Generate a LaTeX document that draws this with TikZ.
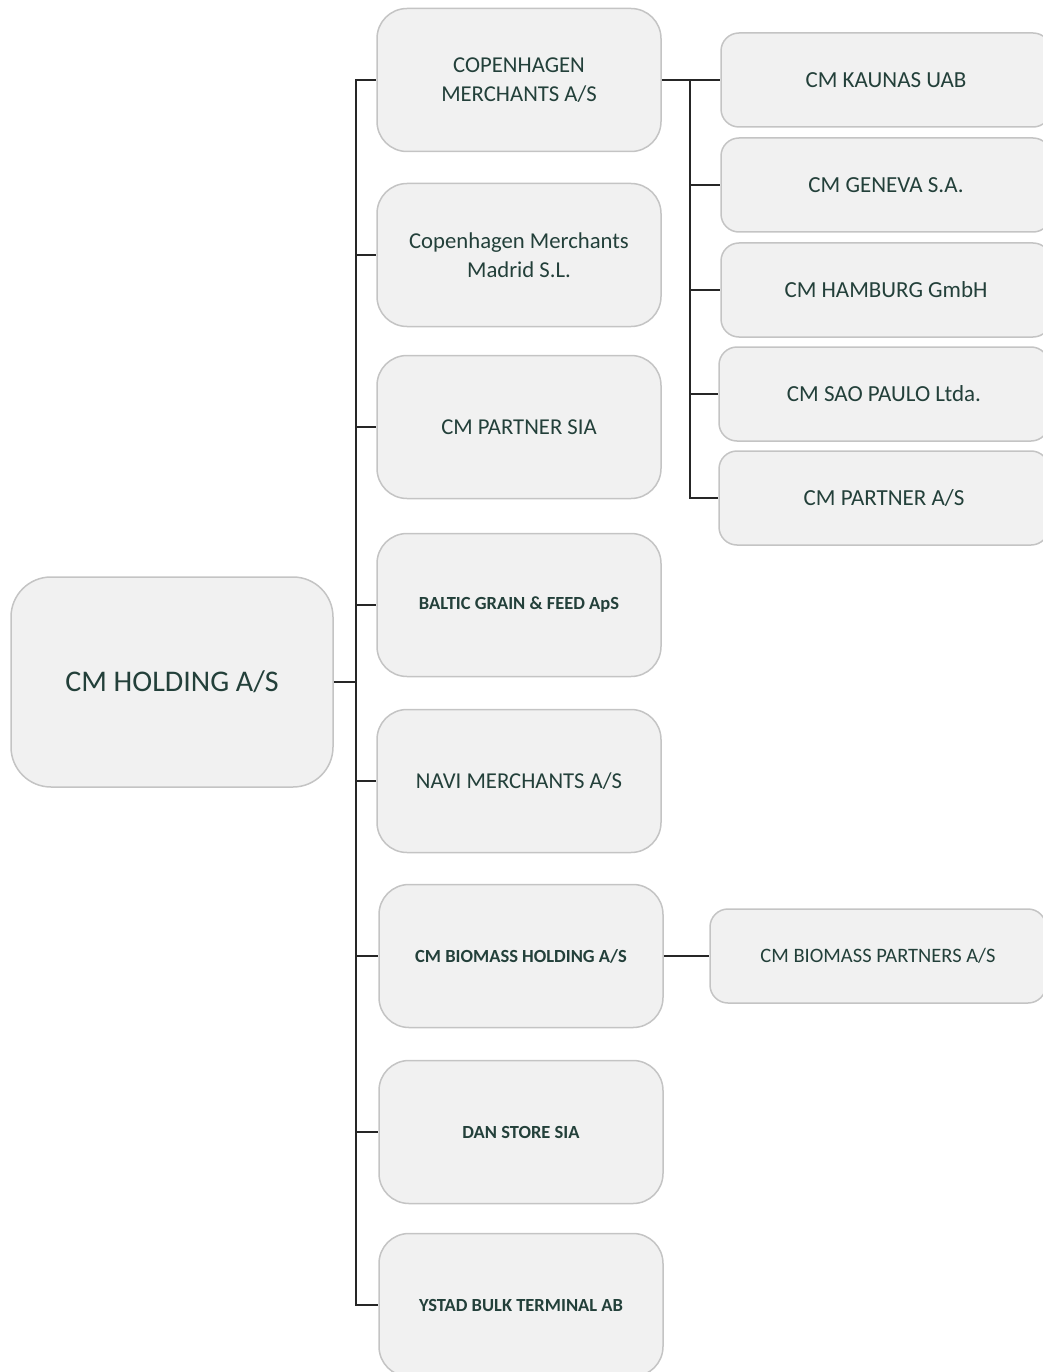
\documentclass[tikz,border=0pt]{standalone}
\usepackage{fontspec}
\setmainfont{Carlito}

\definecolor{boxfill}{HTML}{F1F1F1}
\definecolor{boxline}{HTML}{C4C4C4}
\definecolor{boxtext}{HTML}{23403A}

\tikzset{
	unit/.style={draw=boxline,fill=boxfill,line width=1.5pt,rounded corners=30pt,text=boxtext,align=center,inner sep=0pt},
	midbox/.style={unit,minimum width=284pt,minimum height=143pt,font=\fontsize{22.7}{29}\selectfont},
	subbox/.style={unit,rounded corners=18pt,minimum width=330pt,minimum height=94pt,font=\fontsize{23}{29}\selectfont},
	smalltext/.style={font=\fontsize{18.5}{22}\selectfont\bfseries},
	link/.style={line width=1.6pt,draw=black!85},
}

\begin{document}
\begin{tikzpicture}[x=1pt,y=-1pt]
		\useasboundingbox (0,0) rectangle (1043,1372);
		\clip (0,0) rectangle (1043,1372);
		
		\node[unit,rounded corners=40pt,minimum width=322pt,minimum height=210pt,font=\fontsize{30}{36}\selectfont] (root) at (172,682) {CM HOLDING A/S};
		
		\node[midbox] (m1) at (519,80) {COPENHAGEN\\MERCHANTS A/S};
		\node[midbox] (m2) at (519,255) {Copenhagen Merchants\\Madrid S.L.};
		\node[midbox] (m3) at (519,427) {CM PARTNER SIA};
		\node[midbox,smalltext] (m4) at (519,605) {BALTIC GRAIN \& FEED ApS};
		\node[midbox] (m5) at (519,781) {NAVI MERCHANTS A/S};
		\node[midbox,smalltext] (m6) at (521,956) {CM BIOMASS HOLDING A/S};
		\node[midbox,smalltext] (m7) at (521,1132) {DAN STORE SIA};
		\node[midbox,smalltext] (m8) at (521,1305) {YSTAD BULK TERMINAL AB};
		
		\node[subbox] (r1) at (886,80) {CM KAUNAS UAB};
		\node[subbox] (r2) at (886,185) {CM GENEVA S.A.};
		\node[subbox] (r3) at (886,290) {CM HAMBURG GmbH};
		\node[subbox] (r4) at (884,394) {CM SAO PAULO Ltda.};
		\node[subbox] (r5) at (884,498) {CM PARTNER A/S};
		
		\node[subbox,minimum width=336pt,font=\fontsize{20.5}{24}\selectfont] (bp) at (878,956) {CM BIOMASS PARTNERS A/S};
		
		% holding to subsidiaries
		\coordinate (trunk) at (356,682);
		\draw[link,line width=2.5pt] (root.east) -- (trunk);
		\foreach \m in {m1,m2,m3,m4,m5,m6,m7,m8}
			\draw[link] (trunk) |- (\m.west);
		
		% copenhagen merchants branch
		\coordinate (subtrunk) at (690,80);
		\draw[link] (m1.east) -- (subtrunk);
		\foreach \r in {r1,r2,r3,r4,r5}
			\draw[link] (subtrunk) |- (\r.west);
		
		\draw[link,line width=2pt] (m6.east) -- (bp.west);
		\end{tikzpicture}
\end{document}
